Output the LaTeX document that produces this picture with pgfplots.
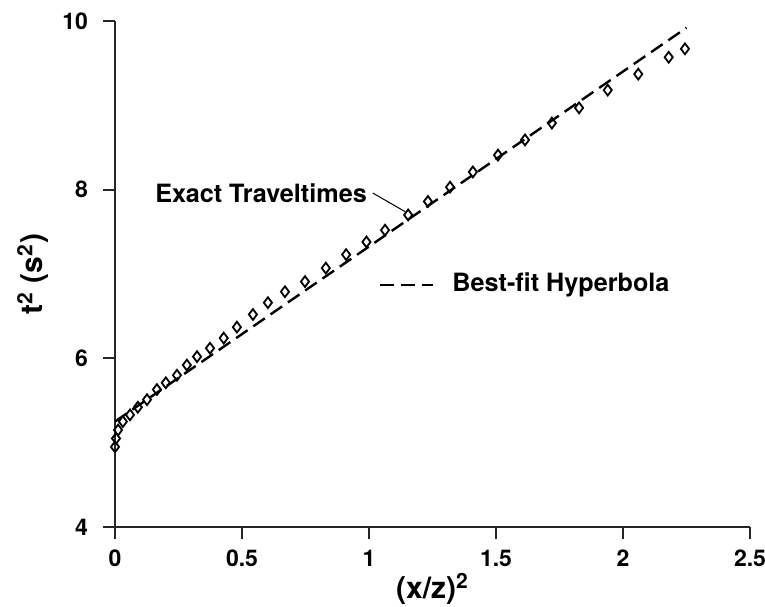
\documentclass[border=0pt]{standalone}
\usepackage{fontspec}
\setmainfont{TeX Gyre Heros}
\usepackage{pgfplots}
\pgfplotsset{compat=1.18}
\begin{document}
\begin{tikzpicture}
\begin{axis}[
  scale only axis,
  width=317.5pt, height=253pt,
  xmin=0, xmax=2.5, ymin=4, ymax=10,
  axis x line=bottom, axis y line=left,
  axis line style={-, line width=1pt, black!85},
  xtick={0,0.5,1,1.5,2,2.5},
  ytick={4,6,8,10},
  tick align=outside,
  major tick length=6pt,
  tick style={line width=0.9pt, black!85},
  /pgf/number format/assume math mode=true,
  ticklabel style={font=\fontsize{11.5}{13}\selectfont\bfseries},
  yticklabel style={xshift=-4pt},
  xticklabel style={yshift=-2pt},
  xlabel={(x/z)\textsuperscript{2}},
  ylabel={t\textsuperscript{2} (s\textsuperscript{2})},
  label style={font=\fontsize{15}{17}\selectfont\bfseries},
  xlabel style={at={(rel axis cs:0.5,0)}, anchor=center, yshift=-31pt},
  ylabel style={at={(rel axis cs:0,0.5)}, anchor=center, yshift=41pt},
  clip=false,
]
\addplot[only marks, mark=diamond, mark size=2.7pt, mark options={line width=0.9pt, black, fill=white}] coordinates {
(0,4.95) (0.004,5.05) (0.012,5.15) (0.031,5.25) (0.059,5.33) (0.09,5.42)
(0.126,5.51) (0.165,5.63) (0.20,5.71) (0.244,5.80) (0.283,5.92) (0.323,6.02)
(0.374,6.12) (0.428,6.24) (0.48,6.37) (0.543,6.52) (0.602,6.66) (0.669,6.79)
(0.748,6.91) (0.83,7.07) (0.91,7.23) (0.99,7.38) (1.063,7.52) (1.154,7.70)
(1.232,7.86) (1.319,8.03) (1.409,8.21) (1.508,8.41) (1.614,8.59) (1.72,8.79)
(1.827,8.97) (1.94,9.18) (2.06,9.37) (2.18,9.57) (2.244,9.67)
};
\addplot[black, line width=1.2pt, dash pattern=on 7pt off 3.5pt] coordinates {(0,5.25) (2.25,9.92)};
\node[anchor=west, inner sep=0pt, font=\fontsize{12.6}{14}\selectfont\bfseries] at (axis cs:0.157,7.96) {Exact Traveltimes};
\draw[line width=0.5pt] (axis cs:1.015,7.96) -- (axis cs:1.142,7.74);
\draw[line width=1.2pt, dash pattern=on 7pt off 3.5pt] (axis cs:1.043,6.87) -- (axis cs:1.25,6.87);
\node[anchor=west, inner sep=0pt, font=\fontsize{12.6}{14}\selectfont\bfseries] at (axis cs:1.327,6.87) {Best-fit Hyperbola};
\end{axis}
\pgfresetboundingbox
\path (-57.5pt,-39.5pt) rectangle (325pt,263.5pt);
\end{tikzpicture}
\end{document}
